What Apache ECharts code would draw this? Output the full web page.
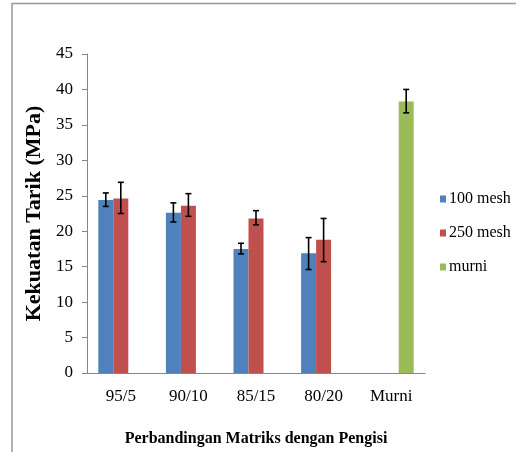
<!DOCTYPE html>
<html>
<head>
<meta charset="utf-8">
<script src="https://cdn.jsdelivr.net/npm/echarts@6/dist/echarts.min.js"></script>
<style>html,body{margin:0;padding:0;background:#fff;}#c{width:516px;height:452px;}</style>
</head>
<body>
<div id="c"></div>
<script>
var categories = ['95/5', '90/10', '85/15', '80/20', 'Murni'];
var seriesNames = ['100 mesh', '250 mesh', 'murni'];
var mesh100 = [24.4, 22.6, 17.5, 16.9, null];
var mesh250 = [24.6, 23.6, 21.8, 18.8, null];
var murni = [null, null, null, null, 38.3];
var mesh100Err = [[23.5, 25.4], [21.3, 24.0], [16.8, 18.3], [14.6, 19.1], null];
var mesh250Err = [[22.5, 26.9], [22.1, 25.3], [20.9, 22.9], [15.7, 21.8], null];
var murniErr = [null, null, null, null, [36.7, 40.0]];
var yTicks = {min: 0, max: 45, interval: 5};

var colors = ['#4F81BD', '#C0504D', '#9BBB59'];
var BAR_W = 15;
var font = 'Liberation Serif';

function errSeries(errs, idx) {
  var data = [];
  errs.forEach(function (e, i) { if (e) data.push([i, e[0], e[1]]); });
  return {
    type: 'custom',
    silent: true,
    z: 10,
    data: data,
    encode: {x: 0, y: [1, 2]},
    renderItem: function (params, api) {
      var c = api.value(0);
      var lo = api.coord([c, api.value(1)]);
      var hi = api.coord([c, api.value(2)]);
      var x = lo[0] + (idx - 1) * BAR_W;
      var cap = 3;
      var st = {stroke: '#000', lineWidth: 1.6};
      return {
        type: 'group',
        children: [
          {type: 'line', shape: {x1: x, y1: lo[1], x2: x, y2: hi[1]}, style: st},
          {type: 'line', shape: {x1: x - cap, y1: lo[1], x2: x + cap, y2: lo[1]}, style: st},
          {type: 'line', shape: {x1: x - cap, y1: hi[1], x2: x + cap, y2: hi[1]}, style: st}
        ]
      };
    }
  };
}

var chart = echarts.init(document.getElementById('c'));
chart.setOption({
  animation: false,
  backgroundColor: '#fff',
  textStyle: {fontFamily: font},
  grid: {left: 87, right: 91, top: 54, bottom: 77, containLabel: false},
  legend: {
    orient: 'vertical',
    left: 435,
    top: 186,
    itemWidth: 6,
    itemHeight: 7,
    itemGap: 18,
    icon: 'rect',
    data: seriesNames,
    textStyle: {fontFamily: font, fontSize: 16, color: '#000', padding: [0, 0, 0, -2]}
  },
  xAxis: {
    type: 'category',
    data: categories,
    name: 'Perbandingan Matriks dengan Pengisi',
    nameLocation: 'middle',
    nameGap: 58,
    nameTextStyle: {fontFamily: font, fontSize: 16, fontWeight: 'bold', color: '#000'},
    axisLine: {lineStyle: {color: '#868686', width: 1}},
    axisTick: {show: false},
    axisLabel: {fontFamily: font, fontSize: 17, color: '#000', margin: 15}
  },
  yAxis: {
    type: 'value',
    min: yTicks.min,
    max: yTicks.max,
    interval: yTicks.interval,
    name: 'Kekuatan Tarik (MPa)',
    nameLocation: 'middle',
    nameRotate: 90,
    nameGap: 37,
    nameTextStyle: {fontFamily: font, fontSize: 22, fontWeight: 'bold', color: '#000'},
    axisLine: {show: true, lineStyle: {color: '#868686', width: 1}},
    axisTick: {show: true, inside: false, length: 5, lineStyle: {color: '#868686'}},
    splitLine: {show: false},
    axisLabel: {fontFamily: font, fontSize: 17, color: '#000', margin: 14}
  },
  graphic: [{
    type: 'polyline',
    shape: {points: [[12, 452], [12, 3.5], [516, 3.5]]},
    style: {stroke: '#999', lineWidth: 1.5, fill: null},
    silent: true
  }],
  series: [
    {name: seriesNames[0], type: 'bar', data: mesh100, barWidth: BAR_W, barGap: '0%', itemStyle: {color: colors[0]}},
    {name: seriesNames[1], type: 'bar', data: mesh250, barWidth: BAR_W, barGap: '0%', itemStyle: {color: colors[1]}},
    {name: seriesNames[2], type: 'bar', data: murni, barWidth: BAR_W, barGap: '0%', itemStyle: {color: colors[2]}},
    errSeries(mesh100Err, 0),
    errSeries(mesh250Err, 1),
    errSeries(murniErr, 2)
  ]
});
</script>
</body>
</html>
